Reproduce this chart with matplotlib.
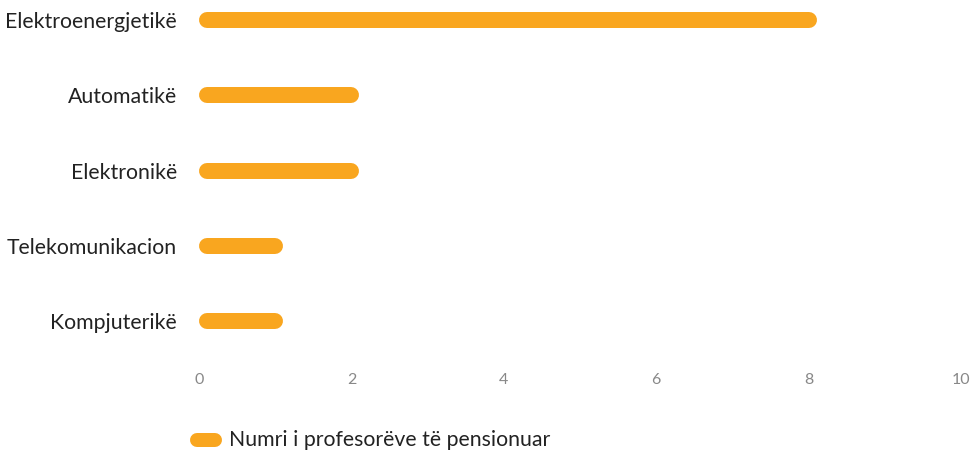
import matplotlib
matplotlib.use('Agg')
import matplotlib.pyplot as plt
from matplotlib.lines import Line2D

# data
categories = ["Elektroenergjetikë", "Automatikë", "Elektronikë",
              "Telekomunikacion", "Kompjuterikë"]
values = [8, 2, 2, 1, 1]
xticks = [0, 2, 4, 6, 8, 10]
series_name = "Numri i profesorëve të pensionuar"

BAR_COLOR = "#F9A61F"
plt.rcParams['font.family'] = ['Lato', 'DejaVu Sans']

W, H = 977, 455
fig = plt.figure(figsize=(W / 100, H / 100), dpi=100)

# axes placed in pixel coords: x 0->10 spans 199..961, top of fig to y=360
ax = fig.add_axes([199 / W, (H - 360) / H, (961 - 199) / W, 360 / H])
ax.set_xlim(0, 10)
ax.set_ylim(-0.518, 4.266)

ypos = list(range(len(categories) - 1, -1, -1))
px_per_unit = (961 - 199) / 10
cap = 8 / px_per_unit
for y, v in zip(ypos, values):
    ax.plot([cap, v], [y, y], color=BAR_COLOR, lw=16 * 0.72,
            solid_capstyle='round', clip_on=False)

ax.set_yticks(ypos)
ax.set_yticklabels(categories, fontsize=15.3, color='#222222')
ax.set_xticks(xticks)
ax.set_xticklabels([str(t) for t in xticks], fontsize=11.5, color='#888888')
ax.tick_params(axis='y', length=0, pad=16)
ax.tick_params(axis='x', length=0, pad=9)
for s in ax.spines.values():
    s.set_visible(False)

# legend
fig.add_artist(Line2D([197 / W, 215 / W], [(H - 440) / H] * 2,
                      transform=fig.transFigure, color=BAR_COLOR,
                      lw=14 * 0.72, solid_capstyle='round'))
fig.text(229 / W, (H - 440) / H, series_name, fontsize=15.3,
         color='#222222', va='center', ha='left')

fig.savefig('out.png', dpi=100)
